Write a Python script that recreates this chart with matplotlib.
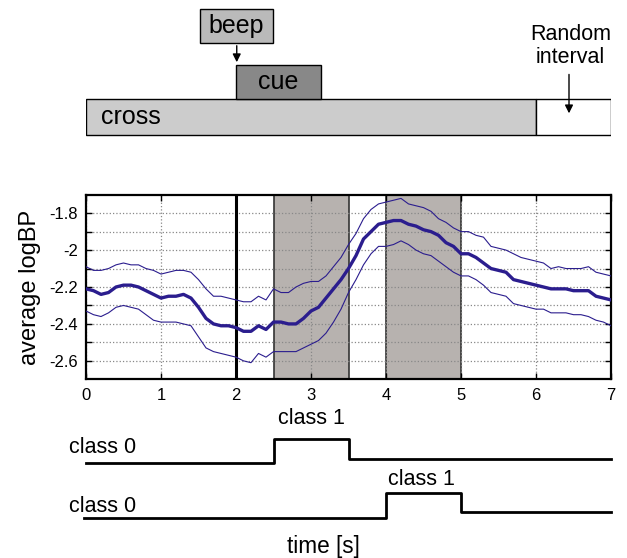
import numpy as np
import matplotlib
matplotlib.use("Agg")
import matplotlib.pyplot as plt
from matplotlib.patches import Rectangle

plt.rcParams['font.family'] = ['Liberation Sans', 'DejaVu Sans']

# --- Daten ---
t = np.round(np.arange(0, 7.01, 0.1), 1)

mean_bp = [-2.21, -2.22, -2.24, -2.23, -2.20, -2.19, -2.19, -2.20, -2.22, -2.24,
           -2.26, -2.25, -2.25, -2.24, -2.26, -2.31, -2.37, -2.40, -2.41, -2.41,
           -2.42, -2.44, -2.44, -2.41, -2.43, -2.39, -2.39, -2.40, -2.40, -2.37,
           -2.33, -2.31, -2.26, -2.21, -2.16, -2.10, -2.03, -1.94, -1.90, -1.86,
           -1.85, -1.84, -1.84, -1.86, -1.87, -1.89, -1.90, -1.92, -1.96, -1.98,
           -2.02, -2.02, -2.04, -2.07, -2.10, -2.11, -2.12, -2.16, -2.17, -2.18,
           -2.19, -2.20, -2.21, -2.21, -2.21, -2.22, -2.22, -2.22, -2.25, -2.26,
           -2.27]

upper_bp = [-2.09, -2.11, -2.11, -2.10, -2.08, -2.07, -2.08, -2.08, -2.10, -2.11,
            -2.13, -2.12, -2.11, -2.11, -2.12, -2.16, -2.21, -2.25, -2.25, -2.26,
            -2.27, -2.28, -2.28, -2.25, -2.27, -2.21, -2.23, -2.23, -2.20, -2.18,
            -2.17, -2.17, -2.14, -2.09, -2.04, -1.97, -1.91, -1.83, -1.78, -1.75,
            -1.74, -1.73, -1.72, -1.75, -1.76, -1.77, -1.79, -1.83, -1.85, -1.88,
            -1.90, -1.90, -1.92, -1.93, -1.98, -1.99, -2.00, -2.02, -2.04, -2.05,
            -2.06, -2.07, -2.10, -2.09, -2.10, -2.10, -2.10, -2.09, -2.12, -2.13,
            -2.14]

lower_bp = [-2.33, -2.35, -2.36, -2.34, -2.31, -2.30, -2.31, -2.32, -2.35, -2.38,
            -2.39, -2.39, -2.39, -2.40, -2.41, -2.47, -2.53, -2.55, -2.56, -2.57,
            -2.58, -2.60, -2.61, -2.56, -2.58, -2.55, -2.55, -2.55, -2.55, -2.53,
            -2.51, -2.49, -2.45, -2.39, -2.32, -2.23, -2.16, -2.08, -2.02, -1.98,
            -1.98, -1.97, -1.95, -1.97, -2.00, -2.02, -2.03, -2.06, -2.09, -2.12,
            -2.14, -2.14, -2.16, -2.19, -2.23, -2.24, -2.25, -2.29, -2.30, -2.31,
            -2.32, -2.32, -2.34, -2.34, -2.34, -2.35, -2.35, -2.36, -2.38, -2.39,
            -2.41]

# Zeitfenster der Klasse 1 (grau) und Beep-Zeitpunkt
class1_windows = [(2.5, 3.5), (4.0, 5.0)]
beep_time = 2.0

# Ablauf oben: Name, Start, Ende, untere Kante, obere Kante, Farbe
stim_names = ["cross", "", "cue", "beep"]
stim_start = [0.0, 6.0, 2.0, 1.52]
stim_end = [6.0, 7.0, 3.13, 2.49]
stim_bottom = [0.0, 0.0, 1.03, 2.63]
stim_top = [1.03, 1.03, 2.0, 3.59]
stim_colors = ["#cccccc", "white", "#888888", "#bababa"]

# Klassen-Signale unten
sig_t = [0.0, 2.5, 3.5, 7.0]
sig1 = [0.0, 1.0, 0.17, 0.17]
sig2_t = [-0.03, 4.0, 5.0, 7.0]
sig2 = [-2.32, -1.26, -2.07, -2.07]

blue = "#2b1d8e"
W, H = 627, 558
fig = plt.figure(figsize=(W / 100, H / 100), dpi=100)

def px_axes(x0, y0, x1, y1):
    return fig.add_axes([x0 / W, 1 - y1 / H, (x1 - x0) / W, (y1 - y0) / H])

# --- oberer Ablauf ---
ax_top = px_axes(86, 0, 611, 150)
ax_top.set_xlim(0, 7)
ax_top.set_ylim(-15 / 35, 135 / 35)
ax_top.axis("off")
for name, s, e, b, tp, c in zip(stim_names, stim_start, stim_end, stim_bottom, stim_top, stim_colors):
    ax_top.add_patch(Rectangle((s, b), e - s, tp - b, facecolor=c, edgecolor="black", lw=1.0))
    if name == "cross":
        ax_top.text(s + 0.2, (b + tp) / 2, name, fontsize=18, ha="left", va="center")
    elif name:
        ax_top.text((s + e) / 2, (b + tp) / 2, name, fontsize=18, ha="center", va="center")
ax_top.annotate("", xy=(2.01, 2.0), xytext=(2.01, 2.63),
                arrowprops=dict(arrowstyle="-|>", color="black", lw=1.0, mutation_scale=12))
ax_top.annotate("", xy=(6.44, 0.54), xytext=(6.44, 1.81),
                arrowprops=dict(arrowstyle="-|>", color="black", lw=1.0, mutation_scale=12))
ax_top.text(6.46, 2.55, "Random\ninterval", fontsize=15.5, ha="center", va="center",
            linespacing=1.1)

# --- Hauptplot ---
ax = px_axes(86, 194.7, 611, 379.3)
for a, b in class1_windows:
    ax.axvspan(a, b, facecolor="#b7b2af", edgecolor="none", zorder=0)
    ax.axvline(a, color="#333333", lw=1.2, zorder=1)
    ax.axvline(b, color="#333333", lw=1.2, zorder=1)
ax.axvline(beep_time, color="black", lw=2.2, zorder=3)

ax.plot(t, upper_bp, color=blue, lw=0.8, zorder=4)
ax.plot(t, lower_bp, color=blue, lw=0.8, zorder=4)
ax.plot(t, mean_bp, color=blue, lw=2.4, zorder=5)

ax.set_xlim(0, 7)
ax.set_ylim(-2.7, -1.7)
ax.set_xticks(range(8))
yt = np.round(np.arange(-2.6, -1.75, 0.1), 1)
ax.set_yticks(yt)
ax.set_yticklabels([("%g" % v) if abs(round(v * 10)) % 2 == 0 else "" for v in yt])
ax.grid(True, ls=":", color="#888888", lw=0.9)
ax.tick_params(direction="in", top=True, right=True, labelsize=12, length=4, width=1, pad=6)
for sp in ax.spines.values():
    sp.set_linewidth(1.6)
ax.set_ylabel("average logBP", fontsize=17, labelpad=6)

# --- Klassen-Signale ---
ax_sig = px_axes(86, 400, 611, 558)
ax_sig.set_xlim(0, 7)
ax_sig.set_ylim(-95.3 / 24, 62.7 / 24)
ax_sig.axis("off")
ax_sig.step(sig_t, sig1, where="post", color="black", lw=2.0, clip_on=False)
ax_sig.step(sig2_t, sig2, where="post", color="black", lw=2.0, clip_on=False)
ax_sig.text(-0.23, 0.65, "class 0", fontsize=15.5, ha="left", va="center")
ax_sig.text(3.0, 1.86, "class 1", fontsize=15.5, ha="center", va="center")
ax_sig.text(-0.23, -1.81, "class 0", fontsize=15.5, ha="left", va="center")
ax_sig.text(4.47, -0.68, "class 1", fontsize=15.5, ha="center", va="center")
ax_sig.text(3.16, -3.5, "time [s]", fontsize=16.3, ha="center", va="center")

fig.savefig("out.png", dpi=100)
